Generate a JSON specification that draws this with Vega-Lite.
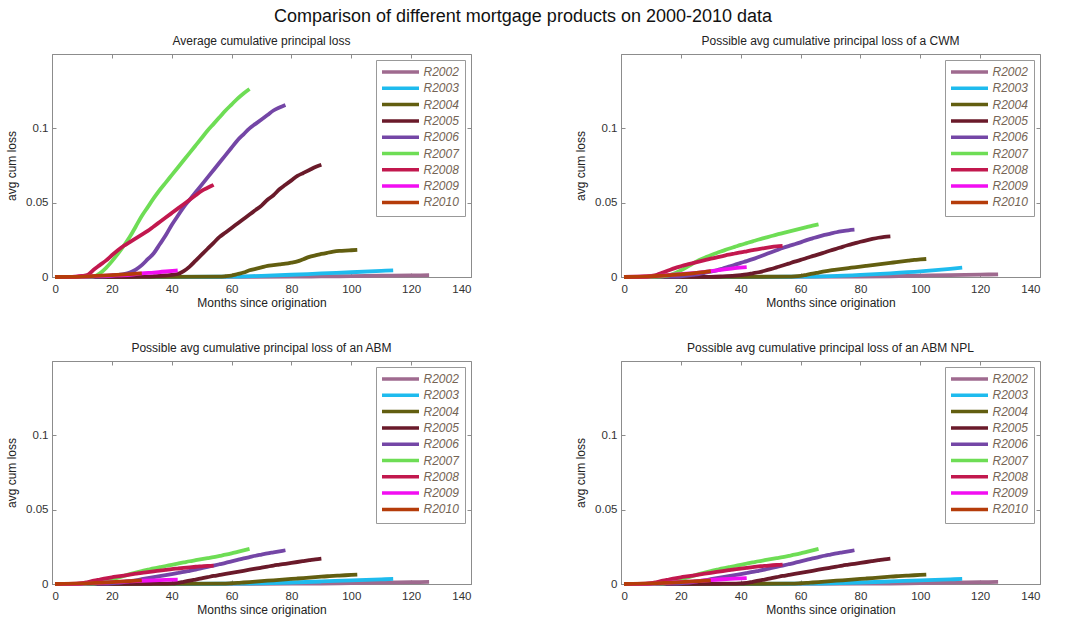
{
"$schema": "https://vega.github.io/schema/vega-lite/v6.json",
"padding": {"left": 5, "top": 8, "right": 5, "bottom": 5},
"title": {"text": "Comparison of different mortgage products on 2000-2010 data", "fontSize": 18, "fontWeight": "normal", "color": "#111", "anchor": "middle", "offset": 8},
"data": {"values": [
{"s":"R2002","m":1,"a":0,"b":0,"c":0,"d":0},
{"s":"R2002","m":40,"a":0.0001,"b":0.0001,"c":0.0001,"d":0.0001},
{"s":"R2002","m":80,"a":0.0002,"b":0.0003,"c":0.0002,"d":0.0002},
{"s":"R2002","m":90,"a":0.0004,"b":0.0005,"c":0.0003,"d":0.0003},
{"s":"R2002","m":100,"a":0.0006,"b":0.0009,"c":0.0006,"d":0.0006},
{"s":"R2002","m":110,"a":0.0009,"b":0.0013,"c":0.0009,"d":0.0009},
{"s":"R2002","m":120,"a":0.0011,"b":0.0016,"c":0.0012,"d":0.0012},
{"s":"R2002","m":126,"a":0.0012,"b":0.0018,"c":0.0014,"d":0.0014},
{"s":"R2003","m":1,"a":0,"b":0,"c":0,"d":0},
{"s":"R2003","m":40,"a":0.0001,"b":0.0001,"c":0.0001,"d":0.0001},
{"s":"R2003","m":60,"a":0.0002,"b":0.0002,"c":0.0002,"d":0.0002},
{"s":"R2003","m":70,"a":0.0008,"b":0.0006,"c":0.0005,"d":0.0005},
{"s":"R2003","m":80,"a":0.0015,"b":0.0014,"c":0.001,"d":0.001},
{"s":"R2003","m":90,"a":0.0024,"b":0.0025,"c":0.0017,"d":0.0017},
{"s":"R2003","m":100,"a":0.0032,"b":0.0038,"c":0.0025,"d":0.0025},
{"s":"R2003","m":110,"a":0.0041,"b":0.0055,"c":0.0031,"d":0.0031},
{"s":"R2003","m":114,"a":0.0045,"b":0.0063,"c":0.0034,"d":0.0034},
{"s":"R2004","m":1,"a":0,"b":0,"c":0,"d":0},
{"s":"R2004","m":30,"a":0.0001,"b":0.0001,"c":0.0001,"d":0.0001},
{"s":"R2004","m":56,"a":0.0002,"b":0.0002,"c":0.0002,"d":0.0002},
{"s":"R2004","m":58,"a":0.0005,"b":0.0004,"c":0.0003,"d":0.0003},
{"s":"R2004","m":60,"a":0.001,"b":0.0008,"c":0.0005,"d":0.0005},
{"s":"R2004","m":62,"a":0.002,"b":0.0015,"c":0.0007,"d":0.0007},
{"s":"R2004","m":64,"a":0.003,"b":0.0022,"c":0.001,"d":0.001},
{"s":"R2004","m":66,"a":0.0045,"b":0.003,"c":0.0013,"d":0.0013},
{"s":"R2004","m":68,"a":0.0055,"b":0.0038,"c":0.0016,"d":0.0016},
{"s":"R2004","m":70,"a":0.0065,"b":0.0045,"c":0.0019,"d":0.0019},
{"s":"R2004","m":72,"a":0.0075,"b":0.005,"c":0.0022,"d":0.0022},
{"s":"R2004","m":74,"a":0.008,"b":0.0055,"c":0.0025,"d":0.0025},
{"s":"R2004","m":76,"a":0.0085,"b":0.006,"c":0.0028,"d":0.0028},
{"s":"R2004","m":78,"a":0.009,"b":0.0065,"c":0.0031,"d":0.0031},
{"s":"R2004","m":80,"a":0.0097,"b":0.007,"c":0.0034,"d":0.0034},
{"s":"R2004","m":82,"a":0.0105,"b":0.0075,"c":0.0037,"d":0.0037},
{"s":"R2004","m":84,"a":0.012,"b":0.008,"c":0.004,"d":0.004},
{"s":"R2004","m":86,"a":0.0135,"b":0.0085,"c":0.0043,"d":0.0043},
{"s":"R2004","m":88,"a":0.0145,"b":0.009,"c":0.0046,"d":0.0046},
{"s":"R2004","m":90,"a":0.0155,"b":0.0095,"c":0.0049,"d":0.0049},
{"s":"R2004","m":92,"a":0.0163,"b":0.01,"c":0.0052,"d":0.0052},
{"s":"R2004","m":94,"a":0.017,"b":0.0105,"c":0.0055,"d":0.0055},
{"s":"R2004","m":96,"a":0.0175,"b":0.011,"c":0.0057,"d":0.0057},
{"s":"R2004","m":98,"a":0.0178,"b":0.0115,"c":0.0059,"d":0.0059},
{"s":"R2004","m":100,"a":0.018,"b":0.0118,"c":0.0061,"d":0.0061},
{"s":"R2004","m":102,"a":0.0182,"b":0.0121,"c":0.0063,"d":0.0063},
{"s":"R2005","m":1,"a":0,"b":0,"c":0,"d":0},
{"s":"R2005","m":20,"a":0.0001,"b":0.0001,"c":0.0001,"d":0.0001},
{"s":"R2005","m":30,"a":0.0002,"b":0.0001,"c":0.0001,"d":0.0001},
{"s":"R2005","m":34,"a":0.0005,"b":0.0004,"c":0.0002,"d":0.0002},
{"s":"R2005","m":38,"a":0.001,"b":0.0009,"c":0.0003,"d":0.0003},
{"s":"R2005","m":40,"a":0.0015,"b":0.0013,"c":0.0004,"d":0.0004},
{"s":"R2005","m":42,"a":0.002,"b":0.0018,"c":0.0008,"d":0.0008},
{"s":"R2005","m":44,"a":0.004,"b":0.0025,"c":0.0015,"d":0.0015},
{"s":"R2005","m":46,"a":0.007,"b":0.0032,"c":0.0022,"d":0.0022},
{"s":"R2005","m":48,"a":0.011,"b":0.0042,"c":0.003,"d":0.003},
{"s":"R2005","m":50,"a":0.015,"b":0.0053,"c":0.0038,"d":0.0038},
{"s":"R2005","m":52,"a":0.019,"b":0.0065,"c":0.0046,"d":0.0046},
{"s":"R2005","m":54,"a":0.023,"b":0.0077,"c":0.0054,"d":0.0054},
{"s":"R2005","m":56,"a":0.027,"b":0.009,"c":0.0061,"d":0.0061},
{"s":"R2005","m":58,"a":0.03,"b":0.0103,"c":0.0068,"d":0.0068},
{"s":"R2005","m":60,"a":0.033,"b":0.0115,"c":0.0075,"d":0.0075},
{"s":"R2005","m":62,"a":0.036,"b":0.0128,"c":0.0082,"d":0.0082},
{"s":"R2005","m":64,"a":0.039,"b":0.014,"c":0.0089,"d":0.0089},
{"s":"R2005","m":66,"a":0.042,"b":0.0152,"c":0.0096,"d":0.0096},
{"s":"R2005","m":68,"a":0.045,"b":0.0165,"c":0.0103,"d":0.0103},
{"s":"R2005","m":70,"a":0.048,"b":0.0178,"c":0.011,"d":0.011},
{"s":"R2005","m":72,"a":0.052,"b":0.019,"c":0.0117,"d":0.0117},
{"s":"R2005","m":74,"a":0.055,"b":0.0203,"c":0.0124,"d":0.0124},
{"s":"R2005","m":76,"a":0.059,"b":0.0215,"c":0.013,"d":0.013},
{"s":"R2005","m":78,"a":0.062,"b":0.0226,"c":0.0136,"d":0.0136},
{"s":"R2005","m":80,"a":0.065,"b":0.0237,"c":0.0142,"d":0.0142},
{"s":"R2005","m":82,"a":0.068,"b":0.0247,"c":0.0148,"d":0.0148},
{"s":"R2005","m":84,"a":0.07,"b":0.0256,"c":0.0154,"d":0.0154},
{"s":"R2005","m":86,"a":0.072,"b":0.0264,"c":0.016,"d":0.016},
{"s":"R2005","m":88,"a":0.074,"b":0.027,"c":0.0166,"d":0.0166},
{"s":"R2005","m":90,"a":0.0755,"b":0.0274,"c":0.0171,"d":0.0171},
{"s":"R2006","m":1,"a":0,"b":0,"c":0,"d":0},
{"s":"R2006","m":10,"a":0.0001,"b":0.0001,"c":0.0001,"d":0.0001},
{"s":"R2006","m":16,"a":0.0002,"b":0.0002,"c":0.0002,"d":0.0002},
{"s":"R2006","m":18,"a":0.0005,"b":0.0003,"c":0.0003,"d":0.0003},
{"s":"R2006","m":20,"a":0.001,"b":0.0005,"c":0.0004,"d":0.0004},
{"s":"R2006","m":22,"a":0.0015,"b":0.001,"c":0.0008,"d":0.0008},
{"s":"R2006","m":24,"a":0.002,"b":0.0015,"c":0.0013,"d":0.0013},
{"s":"R2006","m":26,"a":0.003,"b":0.002,"c":0.0019,"d":0.0019},
{"s":"R2006","m":28,"a":0.005,"b":0.0028,"c":0.0025,"d":0.0025},
{"s":"R2006","m":30,"a":0.008,"b":0.0036,"c":0.0032,"d":0.0032},
{"s":"R2006","m":32,"a":0.012,"b":0.0045,"c":0.0039,"d":0.0039},
{"s":"R2006","m":34,"a":0.016,"b":0.0057,"c":0.0046,"d":0.0046},
{"s":"R2006","m":36,"a":0.022,"b":0.007,"c":0.0053,"d":0.0053},
{"s":"R2006","m":38,"a":0.028,"b":0.0082,"c":0.006,"d":0.006},
{"s":"R2006","m":40,"a":0.035,"b":0.0095,"c":0.0067,"d":0.0067},
{"s":"R2006","m":42,"a":0.041,"b":0.0107,"c":0.0074,"d":0.0074},
{"s":"R2006","m":44,"a":0.047,"b":0.012,"c":0.0081,"d":0.0081},
{"s":"R2006","m":46,"a":0.052,"b":0.0135,"c":0.0089,"d":0.0089},
{"s":"R2006","m":48,"a":0.057,"b":0.015,"c":0.0097,"d":0.0097},
{"s":"R2006","m":50,"a":0.062,"b":0.0165,"c":0.0106,"d":0.0106},
{"s":"R2006","m":52,"a":0.067,"b":0.018,"c":0.0115,"d":0.0115},
{"s":"R2006","m":54,"a":0.072,"b":0.0195,"c":0.0124,"d":0.0124},
{"s":"R2006","m":56,"a":0.077,"b":0.0208,"c":0.0133,"d":0.0133},
{"s":"R2006","m":58,"a":0.082,"b":0.022,"c":0.0142,"d":0.0142},
{"s":"R2006","m":60,"a":0.087,"b":0.0233,"c":0.0152,"d":0.0152},
{"s":"R2006","m":62,"a":0.092,"b":0.0248,"c":0.0162,"d":0.0162},
{"s":"R2006","m":64,"a":0.096,"b":0.026,"c":0.0172,"d":0.0172},
{"s":"R2006","m":66,"a":0.1,"b":0.0272,"c":0.0181,"d":0.0181},
{"s":"R2006","m":68,"a":0.103,"b":0.0283,"c":0.019,"d":0.019},
{"s":"R2006","m":70,"a":0.106,"b":0.0292,"c":0.0198,"d":0.0198},
{"s":"R2006","m":72,"a":0.109,"b":0.0301,"c":0.0206,"d":0.0206},
{"s":"R2006","m":74,"a":0.112,"b":0.0308,"c":0.0213,"d":0.0213},
{"s":"R2006","m":76,"a":0.114,"b":0.0314,"c":0.022,"d":0.022},
{"s":"R2006","m":78,"a":0.1157,"b":0.0318,"c":0.0227,"d":0.0227},
{"s":"R2007","m":1,"a":0,"b":0,"c":0,"d":0},
{"s":"R2007","m":10,"a":0.0001,"b":0.0001,"c":0.0001,"d":0.0001},
{"s":"R2007","m":12,"a":0.0002,"b":0.0002,"c":0.0002,"d":0.0002},
{"s":"R2007","m":14,"a":0.0005,"b":0.0005,"c":0.0003,"d":0.0003},
{"s":"R2007","m":16,"a":0.0025,"b":0.001,"c":0.001,"d":0.001},
{"s":"R2007","m":18,"a":0.006,"b":0.0025,"c":0.0019,"d":0.0019},
{"s":"R2007","m":20,"a":0.0105,"b":0.0045,"c":0.003,"d":0.003},
{"s":"R2007","m":22,"a":0.0155,"b":0.0067,"c":0.0042,"d":0.0042},
{"s":"R2007","m":24,"a":0.021,"b":0.009,"c":0.0054,"d":0.0054},
{"s":"R2007","m":26,"a":0.027,"b":0.0113,"c":0.0066,"d":0.0066},
{"s":"R2007","m":28,"a":0.034,"b":0.013,"c":0.0077,"d":0.0077},
{"s":"R2007","m":30,"a":0.041,"b":0.0147,"c":0.0087,"d":0.0087},
{"s":"R2007","m":32,"a":0.047,"b":0.0162,"c":0.0096,"d":0.0096},
{"s":"R2007","m":34,"a":0.053,"b":0.0176,"c":0.0105,"d":0.0105},
{"s":"R2007","m":36,"a":0.0585,"b":0.019,"c":0.0113,"d":0.0113},
{"s":"R2007","m":38,"a":0.0635,"b":0.0203,"c":0.0121,"d":0.0121},
{"s":"R2007","m":40,"a":0.0685,"b":0.0216,"c":0.0129,"d":0.0129},
{"s":"R2007","m":42,"a":0.0735,"b":0.0228,"c":0.0137,"d":0.0137},
{"s":"R2007","m":44,"a":0.0785,"b":0.024,"c":0.0145,"d":0.0145},
{"s":"R2007","m":46,"a":0.0835,"b":0.0252,"c":0.0153,"d":0.0153},
{"s":"R2007","m":48,"a":0.0885,"b":0.0263,"c":0.016,"d":0.016},
{"s":"R2007","m":50,"a":0.0935,"b":0.0274,"c":0.0167,"d":0.0167},
{"s":"R2007","m":52,"a":0.0985,"b":0.0285,"c":0.0174,"d":0.0174},
{"s":"R2007","m":54,"a":0.103,"b":0.0295,"c":0.0181,"d":0.0181},
{"s":"R2007","m":56,"a":0.1075,"b":0.0305,"c":0.0189,"d":0.0189},
{"s":"R2007","m":58,"a":0.112,"b":0.0315,"c":0.0197,"d":0.0197},
{"s":"R2007","m":60,"a":0.116,"b":0.0325,"c":0.0206,"d":0.0206},
{"s":"R2007","m":62,"a":0.12,"b":0.0335,"c":0.0216,"d":0.0216},
{"s":"R2007","m":64,"a":0.1235,"b":0.0345,"c":0.0226,"d":0.0226},
{"s":"R2007","m":66,"a":0.1265,"b":0.0354,"c":0.0236,"d":0.0236},
{"s":"R2008","m":1,"a":0,"b":0,"c":0,"d":0},
{"s":"R2008","m":4,"a":0.0001,"b":0.0001,"c":0.0001,"d":0.0001},
{"s":"R2008","m":8,"a":0.0003,"b":0.0002,"c":0.0002,"d":0.0002},
{"s":"R2008","m":10,"a":0.0007,"b":0.0007,"c":0.0005,"d":0.0005},
{"s":"R2008","m":12,"a":0.0015,"b":0.0015,"c":0.0013,"d":0.0013},
{"s":"R2008","m":14,"a":0.005,"b":0.003,"c":0.0022,"d":0.0022},
{"s":"R2008","m":16,"a":0.008,"b":0.0045,"c":0.003,"d":0.003},
{"s":"R2008","m":18,"a":0.011,"b":0.006,"c":0.0038,"d":0.0038},
{"s":"R2008","m":20,"a":0.0146,"b":0.0072,"c":0.0045,"d":0.0045},
{"s":"R2008","m":22,"a":0.018,"b":0.0083,"c":0.0051,"d":0.0051},
{"s":"R2008","m":24,"a":0.021,"b":0.0093,"c":0.0057,"d":0.0057},
{"s":"R2008","m":26,"a":0.0235,"b":0.0103,"c":0.0063,"d":0.0063},
{"s":"R2008","m":28,"a":0.026,"b":0.0113,"c":0.0069,"d":0.0069},
{"s":"R2008","m":30,"a":0.0285,"b":0.0123,"c":0.0075,"d":0.0075},
{"s":"R2008","m":32,"a":0.031,"b":0.0132,"c":0.008,"d":0.0081},
{"s":"R2008","m":34,"a":0.034,"b":0.0141,"c":0.0085,"d":0.0087},
{"s":"R2008","m":36,"a":0.037,"b":0.015,"c":0.009,"d":0.0093},
{"s":"R2008","m":38,"a":0.04,"b":0.0158,"c":0.0095,"d":0.0099},
{"s":"R2008","m":40,"a":0.043,"b":0.0166,"c":0.01,"d":0.0104},
{"s":"R2008","m":42,"a":0.046,"b":0.0173,"c":0.0104,"d":0.0109},
{"s":"R2008","m":44,"a":0.049,"b":0.018,"c":0.0108,"d":0.0114},
{"s":"R2008","m":46,"a":0.052,"b":0.0188,"c":0.0112,"d":0.0118},
{"s":"R2008","m":48,"a":0.055,"b":0.0195,"c":0.0116,"d":0.0122},
{"s":"R2008","m":50,"a":0.058,"b":0.0201,"c":0.0119,"d":0.0125},
{"s":"R2008","m":52,"a":0.06,"b":0.0206,"c":0.0122,"d":0.0128},
{"s":"R2008","m":54,"a":0.062,"b":0.021,"c":0.0124,"d":0.013},
{"s":"R2009","m":1,"a":0,"b":0,"c":0,"d":0},
{"s":"R2009","m":10,"a":0.0002,"b":0.0005,"c":0.0003,"d":0.0003},
{"s":"R2009","m":20,"a":0.001,"b":0.002,"c":0.0012,"d":0.0014},
{"s":"R2009","m":26,"a":0.0015,"b":0.003,"c":0.0018,"d":0.002},
{"s":"R2009","m":30,"a":0.0025,"b":0.004,"c":0.0022,"d":0.0027},
{"s":"R2009","m":34,"a":0.003,"b":0.005,"c":0.0025,"d":0.0032},
{"s":"R2009","m":38,"a":0.0037,"b":0.006,"c":0.0028,"d":0.0036},
{"s":"R2009","m":42,"a":0.0045,"b":0.0067,"c":0.003,"d":0.004},
{"s":"R2010","m":1,"a":0,"b":0,"c":0,"d":0},
{"s":"R2010","m":10,"a":0.0003,"b":0.0005,"c":0.0004,"d":0.0004},
{"s":"R2010","m":20,"a":0.0012,"b":0.0018,"c":0.0013,"d":0.0013},
{"s":"R2010","m":26,"a":0.002,"b":0.003,"c":0.002,"d":0.002},
{"s":"R2010","m":30,"a":0.0025,"b":0.004,"c":0.0025,"d":0.0025}
]},
"columns": 2,
"spacing": {"column": 102, "row": 32},
"resolve": {"legend": {"color": "independent"}},
"concat": [
{"title": "Average cumulative principal loss", "width": 419, "height": 223,
 "layer": [
  {"mark": {"type": "line", "strokeWidth": 3.8, "interpolate": "monotone"},
   "encoding": {
    "x": {"field": "m", "type": "quantitative", "scale": {"domain": [0, 140], "nice": false}, "axis": {"title": "Months since origination", "values": [0,20,40,60,80,100,120,140]}},
    "y": {"field": "a", "type": "quantitative", "scale": {"domain": [0, 0.15], "nice": false}, "axis": {"title": "avg cum loss", "values": [0,0.05,0.1], "format": "~g"}},
    "color": {"field": "s", "type": "nominal", "scale": {"domain": ["R2002","R2003","R2004","R2005","R2006","R2007","R2008","R2009","R2010"], "range": ["#9F6A8F","#1EBBEE","#625E10","#6A1A2A","#7446A6","#6EDD55","#C2184E","#F20EF2","#B53C0A"]},
      "legend": {"title": null, "orient": "top-right", "offset": 6, "symbolType": "M-1.5,0H7.75", "symbolSize": 64, "symbolStrokeWidth": 3.5}}
   }},
  {"mark": {"type": "point", "opacity": 0},
   "encoding": {
    "x": {"field": "m", "type": "quantitative", "scale": {"domain": [0, 140], "nice": false}, "axis": {"orient": "top", "labels": false, "title": null, "domain": false, "values": [0,20,40,60,80,100,120,140]}},
    "y": {"field": "a", "type": "quantitative", "scale": {"domain": [0, 0.15], "nice": false}, "axis": {"orient": "right", "labels": false, "title": null, "domain": false, "values": [0,0.05,0.1]}}
   }}
 ],
 "resolve": {"axis": {"x": "independent", "y": "independent"}}
},
{"title": "Possible avg cumulative principal loss of a CWM", "width": 419, "height": 223,
 "layer": [
  {"mark": {"type": "line", "strokeWidth": 3.8, "interpolate": "monotone"},
   "encoding": {
    "x": {"field": "m", "type": "quantitative", "scale": {"domain": [0, 140], "nice": false}, "axis": {"title": "Months since origination", "values": [0,20,40,60,80,100,120,140]}},
    "y": {"field": "b", "type": "quantitative", "scale": {"domain": [0, 0.15], "nice": false}, "axis": {"title": "avg cum loss", "values": [0,0.05,0.1], "format": "~g"}},
    "color": {"field": "s", "type": "nominal", "scale": {"domain": ["R2002","R2003","R2004","R2005","R2006","R2007","R2008","R2009","R2010"], "range": ["#9F6A8F","#1EBBEE","#625E10","#6A1A2A","#7446A6","#6EDD55","#C2184E","#F20EF2","#B53C0A"]},
      "legend": {"title": null, "orient": "top-right", "offset": 6, "symbolType": "M-1.5,0H7.75", "symbolSize": 64, "symbolStrokeWidth": 3.5}}
   }},
  {"mark": {"type": "point", "opacity": 0},
   "encoding": {
    "x": {"field": "m", "type": "quantitative", "scale": {"domain": [0, 140], "nice": false}, "axis": {"orient": "top", "labels": false, "title": null, "domain": false, "values": [0,20,40,60,80,100,120,140]}},
    "y": {"field": "b", "type": "quantitative", "scale": {"domain": [0, 0.15], "nice": false}, "axis": {"orient": "right", "labels": false, "title": null, "domain": false, "values": [0,0.05,0.1]}}
   }}
 ],
 "resolve": {"axis": {"x": "independent", "y": "independent"}}
},
{"title": "Possible avg cumulative principal loss of an ABM", "width": 419, "height": 223,
 "layer": [
  {"mark": {"type": "line", "strokeWidth": 3.8, "interpolate": "monotone"},
   "encoding": {
    "x": {"field": "m", "type": "quantitative", "scale": {"domain": [0, 140], "nice": false}, "axis": {"title": "Months since origination", "values": [0,20,40,60,80,100,120,140]}},
    "y": {"field": "c", "type": "quantitative", "scale": {"domain": [0, 0.15], "nice": false}, "axis": {"title": "avg cum loss", "values": [0,0.05,0.1], "format": "~g"}},
    "color": {"field": "s", "type": "nominal", "scale": {"domain": ["R2002","R2003","R2004","R2005","R2006","R2007","R2008","R2009","R2010"], "range": ["#9F6A8F","#1EBBEE","#625E10","#6A1A2A","#7446A6","#6EDD55","#C2184E","#F20EF2","#B53C0A"]},
      "legend": {"title": null, "orient": "top-right", "offset": 6, "symbolType": "M-1.5,0H7.75", "symbolSize": 64, "symbolStrokeWidth": 3.5}}
   }},
  {"mark": {"type": "point", "opacity": 0},
   "encoding": {
    "x": {"field": "m", "type": "quantitative", "scale": {"domain": [0, 140], "nice": false}, "axis": {"orient": "top", "labels": false, "title": null, "domain": false, "values": [0,20,40,60,80,100,120,140]}},
    "y": {"field": "c", "type": "quantitative", "scale": {"domain": [0, 0.15], "nice": false}, "axis": {"orient": "right", "labels": false, "title": null, "domain": false, "values": [0,0.05,0.1]}}
   }}
 ],
 "resolve": {"axis": {"x": "independent", "y": "independent"}}
},
{"title": "Possible  avg cumulative principal loss of an ABM NPL", "width": 419, "height": 223,
 "layer": [
  {"mark": {"type": "line", "strokeWidth": 3.8, "interpolate": "monotone"},
   "encoding": {
    "x": {"field": "m", "type": "quantitative", "scale": {"domain": [0, 140], "nice": false}, "axis": {"title": "Months since origination", "values": [0,20,40,60,80,100,120,140]}},
    "y": {"field": "d", "type": "quantitative", "scale": {"domain": [0, 0.15], "nice": false}, "axis": {"title": "avg cum loss", "values": [0,0.05,0.1], "format": "~g"}},
    "color": {"field": "s", "type": "nominal", "scale": {"domain": ["R2002","R2003","R2004","R2005","R2006","R2007","R2008","R2009","R2010"], "range": ["#9F6A8F","#1EBBEE","#625E10","#6A1A2A","#7446A6","#6EDD55","#C2184E","#F20EF2","#B53C0A"]},
      "legend": {"title": null, "orient": "top-right", "offset": 6, "symbolType": "M-1.5,0H7.75", "symbolSize": 64, "symbolStrokeWidth": 3.5}}
   }},
  {"mark": {"type": "point", "opacity": 0},
   "encoding": {
    "x": {"field": "m", "type": "quantitative", "scale": {"domain": [0, 140], "nice": false}, "axis": {"orient": "top", "labels": false, "title": null, "domain": false, "values": [0,20,40,60,80,100,120,140]}},
    "y": {"field": "d", "type": "quantitative", "scale": {"domain": [0, 0.15], "nice": false}, "axis": {"orient": "right", "labels": false, "title": null, "domain": false, "values": [0,0.05,0.1]}}
   }}
 ],
 "resolve": {"axis": {"x": "independent", "y": "independent"}}
}
],
"config": {
 "font": "Liberation Sans",
 "background": "white",
 "view": {"stroke": "#8c8c8c", "strokeWidth": 1},
 "axis": {"grid": false, "domainColor": "#8c8c8c", "tickColor": "#8c8c8c", "tickSize": -4, "labelFontSize": 11.5, "labelColor": "#333333", "titleFontSize": 12, "titleFontWeight": "normal", "titleColor": "#222222", "labelFont": "Liberation Sans", "titleFont": "Liberation Sans"},
 "axisX": {"labelPadding": 10, "titlePadding": 3},
 "axisY": {"labelPadding": 8, "titlePadding": 7},
 "title": {"fontSize": 12, "fontWeight": "normal", "color": "#222222", "offset": 6, "font": "Liberation Sans"},
 "legend": {"padding": 6, "rowPadding": 2.3, "strokeColor": "#999999", "fillColor": "white", "labelOffset": 29.5, "labelFont": "Liberation Sans", "labelFontStyle": "italic", "labelFontSize": 12, "labelColor": "#746454", "cornerRadius": 0}
}
}
